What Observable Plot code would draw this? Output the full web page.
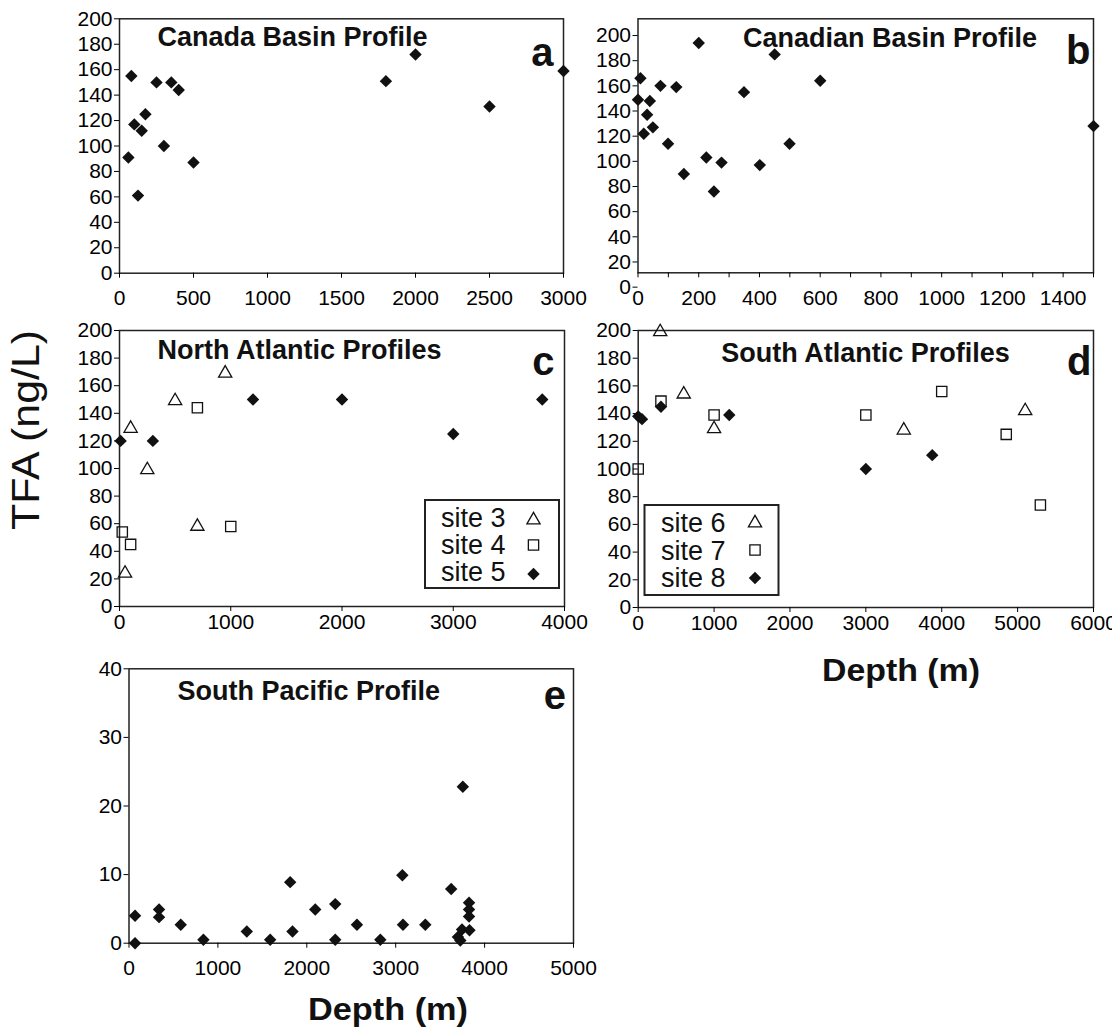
<!DOCTYPE html>
<html><head><meta charset="utf-8">
<script src="https://cdn.jsdelivr.net/npm/d3@7"></script>
<script src="https://cdn.jsdelivr.net/npm/@observablehq/plot@0.6"></script>
<style>
body{margin:0;background:#fff;}
#chart{position:relative;width:1112px;height:1033px;overflow:hidden;font-family:"Liberation Sans",Arial,sans-serif;background:#fff;}
.panel{position:absolute;}
.panel svg{overflow:visible;}
#overlay{position:absolute;left:0;top:0;overflow:visible;}
</style></head><body><div id="chart"></div>
<script>
// ---- Data (depth in m, TFA in ng/L) ----
const canadaDepth = [80,250,350,400,175,100,150,60,300,500,125,1800,2000,2500,3000];
const canadaTFA   = [155,150,150,144,125,117,112,91,100,87,61,151,172,131,159];

const canadianDepth = [200,450,8,74,126,0,39,30,49,19,99,151,225,275,250,349,401,499,600,1500];
const canadianTFA   = [194,185,166,160,159,149,148,137,127,122,114,90,103,99,76,155,97,114,164,128];

const site3Depth = [50,100,250,500,700,950];
const site3TFA   = [24,129,99,149,58,169];
const site4Depth = [25,100,700,1000];
const site4TFA   = [54,45,144,58];
const site5Depth = [10,300,1200,2000,3000,3800];
const site5TFA   = [120,120,150,150,125,150];

const site6Depth = [290,600,1000,3500,5100];
const site6TFA   = [199,154,129,128,142];
const site7Depth = [0,300,1000,3000,4000,4850,5300];
const site7TFA   = [100,149,139,139,156,125,74];
const site8Depth = [0,50,300,1200,3000,3875];
const site8TFA   = [138,136,145,139,100,110];

const pacificDepth = [68,68,338,338,582,837,1325,1588,1813,1839,2095,2320,2320,2564,2827,3075,3082,3333,3624,3755,3825,3825,3825,3746,3830,3700,3727];
const pacificTFA   = [4,0,4.9,3.8,2.7,0.5,1.7,0.5,8.9,1.7,4.9,5.7,0.5,2.7,0.5,9.9,2.7,2.7,7.9,22.8,5.9,4.9,3.9,2.0,1.9,0.9,0.4];

const titles = ["Canada Basin Profile","Canadian Basin Profile","North Atlantic Profiles","South Atlantic Profiles","South Pacific Profile"];
const letters = ["a","b","c","d","e"];
const ticksTFA = [0,20,40,60,80,100,120,140,160,180,200];
const ticksPacific = [0,10,20,30,40];
const ticksA = [0,500,1000,1500,2000,2500,3000];
const ticksB = [0,100,200,300,400,500,600,700,800,900,1000,1100,1200,1300,1400,1500];
const ticksC = [0,1000,2000,3000,4000];
const ticksD = [0,1000,2000,3000,4000,5000,6000];
const ticksE = [0,1000,2000,3000,4000,5000];
const legendC = ["site 3","site 4","site 5"];
const legendD = ["site 6","site 7","site 8"];
const yLabel = "TFA (ng/L)";
const xLabel = "Depth (m)";

const rows = (xs, ys) => xs.map((d, i) => ({depth: d, tfa: ys[i]}));

const FONT = '"Liberation Sans", Arial, sans-serif';
const INK = "#111";
const DIAMOND = {symbol: "diamond2", r: 5.6, fill: INK, stroke: "none"};
const SQUARE = {symbol: "square", r: 5.8, fill: "none", stroke: INK};
const TRIANGLE = {symbol: "triangle", r: 4.9, fill: "none", stroke: INK};

const chart = document.getElementById("chart");

function panel(o) {
  const marks = [
    Plot.frame({stroke: "#222", strokeWidth: 1.5}),
    Plot.axisX({ticks: o.xTicks, tickFormat: o.xFormat || (d => String(d)), tickSize: 5, tickPadding: o.xPad, fontSize: 21, label: null}),
    Plot.axisY({ticks: o.yTicks, tickFormat: d => String(d), tickSize: 5, tickPadding: 2, fontSize: 21, label: null}),
    ...o.series.map(s => Plot.dot(s.data, {x: "depth", y: "tfa", symbol: s.symbol, r: s.r, fill: s.fill, stroke: s.stroke, strokeWidth: 1.3})),
    Plot.text([o.title], {text: d => d, frameAnchor: "top-left", dx: o.tdx, dy: o.tdy, textAnchor: "start", lineAnchor: "middle", fontSize: 27, fontWeight: "bold", fill: INK}),
    Plot.text([o.letter], {text: d => d, frameAnchor: "top-right", dx: o.ldx, dy: o.ldy, textAnchor: "end", lineAnchor: "middle", fontSize: 40, fontWeight: "bold", fill: INK})
  ];
  const svg = Plot.plot({
    width: o.width, height: o.height,
    marginLeft: o.mL, marginRight: o.mR, marginTop: o.mT, marginBottom: o.mB,
    x: {type: "linear", domain: o.xDomain, label: null},
    y: {type: "linear", domain: o.yDomain, label: null},
    marks,
    style: {fontFamily: FONT, fontSize: "21px", color: "#000", background: "transparent", overflow: "visible"}
  });
  const div = document.createElement("div");
  div.className = "panel";
  div.style.left = o.left + "px";
  div.style.top = o.top + "px";
  div.appendChild(svg);
  chart.appendChild(div);
}

panel({left: 0, top: 0, width: 580, height: 320, mL: 119, mR: 17, mT: 18.3, mB: 47.3,
  xDomain: [0, 3000], yDomain: [0, 200], xTicks: ticksA, yTicks: ticksTFA, xPad: 12,
  series: [{data: rows(canadaDepth, canadaTFA), ...DIAMOND}],
  title: titles[0], tdx: 38, tdy: 18.1, letter: letters[0], ldx: -10, ldy: 34});

panel({left: 580, top: 0, width: 532, height: 320, mL: 57.5, mR: 19, mT: 18.3, mB: 47.7,
  xDomain: [0, 1500], yDomain: [11.4, 213.3], xTicks: ticksB, xFormat: d => (d % 200 === 0 ? String(d) : ""), yTicks: ticksTFA, xPad: 12,
  series: [{data: rows(canadianDepth, canadianTFA), ...DIAMOND}],
  title: titles[1], tdx: 105, tdy: 19.7, letter: letters[1], ldx: -3, ldy: 32});

panel({left: 0, top: 310, width: 580, height: 330, mL: 119, mR: 16, mT: 20, mB: 34,
  xDomain: [0, 4000], yDomain: [0, 200], xTicks: ticksC, yTicks: ticksTFA, xPad: 3,
  series: [
    {data: rows(site3Depth, site3TFA), ...TRIANGLE},
    {data: rows(site4Depth, site4TFA), ...SQUARE},
    {data: rows(site5Depth, site5TFA), ...DIAMOND}
  ],
  title: titles[2], tdx: 38, tdy: 19.7, letter: letters[2], ldx: -10, ldy: 32});

panel({left: 580, top: 310, width: 532, height: 330, mL: 57.7, mR: 19, mT: 20, mB: 33,
  xDomain: [0, 6000], yDomain: [0, 200], xTicks: ticksD, yTicks: ticksTFA, xPad: 3,
  series: [
    {data: rows(site6Depth, site6TFA), ...TRIANGLE},
    {data: rows(site7Depth, site7TFA), ...SQUARE},
    {data: rows(site8Depth, site8TFA), ...DIAMOND}
  ],
  title: titles[3], tdx: 83, tdy: 23, letter: letters[3], ldx: -2, ldy: 32});

panel({left: 0, top: 650, width: 600, height: 383, mL: 128.5, mR: 27, mT: 18.3, mB: 90.3,
  xDomain: [0, 5000], yDomain: [0, 40], xTicks: ticksE, yTicks: ticksPacific, xPad: 12,
  series: [{data: rows(pacificDepth, pacificTFA), ...DIAMOND}],
  title: titles[4], tdx: 48.5, tdy: 23, letter: letters[4], ldx: -7.5, ldy: 27});

// ---- Overlay: axis titles and legends ----
const ov = d3.select(chart).append("svg").attr("id", "overlay")
  .attr("width", 1112).attr("height", 1033)
  .style("font-family", FONT);

ov.append("text").text(yLabel)
  .attr("transform", "translate(39,430) rotate(-90)")
  .attr("text-anchor", "middle").attr("font-size", 38).attr("fill", INK)
  .attr("textLength", 200).attr("lengthAdjust", "spacingAndGlyphs");

ov.append("text").text(xLabel)
  .attr("x", 901).attr("y", 681).attr("text-anchor", "middle")
  .attr("font-size", 31).attr("font-weight", "bold").attr("fill", INK)
  .attr("textLength", 158).attr("lengthAdjust", "spacingAndGlyphs");

ov.append("text").text(xLabel)
  .attr("x", 388).attr("y", 1020).attr("text-anchor", "middle")
  .attr("font-size", 31).attr("font-weight", "bold").attr("fill", INK)
  .attr("textLength", 160).attr("lengthAdjust", "spacingAndGlyphs");

const legendSymbols = [TRIANGLE, SQUARE, DIAMOND];
const symType = {triangle: d3.symbolTriangle, square: d3.symbolSquare, diamond2: d3.symbolDiamond2};

function legend(labels, box, textX, baselines, symX, symYs) {
  const g = ov.append("g");
  g.append("rect").attr("x", box[0]).attr("y", box[1]).attr("width", box[2]).attr("height", box[3])
    .attr("fill", "#fff").attr("stroke", "#222").attr("stroke-width", 2);
  labels.forEach((lab, i) => {
    g.append("text").text(lab).attr("x", textX).attr("y", baselines[i])
      .attr("font-size", 27).attr("fill", INK);
    const s = legendSymbols[i];
    g.append("path")
      .attr("d", d3.symbol(symType[s.symbol], s.r * s.r * Math.PI)())
      .attr("transform", `translate(${symX},${symYs[i]})`)
      .attr("fill", s.fill).attr("stroke", s.stroke).attr("stroke-width", 1.3);
  });
}
legend(legendC, [425, 500, 134, 88], 441, [527, 553.5, 581], 533.5, [520, 545, 574]);
legend(legendD, [644.5, 505, 134, 90], 661, [532, 559.5, 587], 755, [523, 550, 578]);
</script>
</body></html>
